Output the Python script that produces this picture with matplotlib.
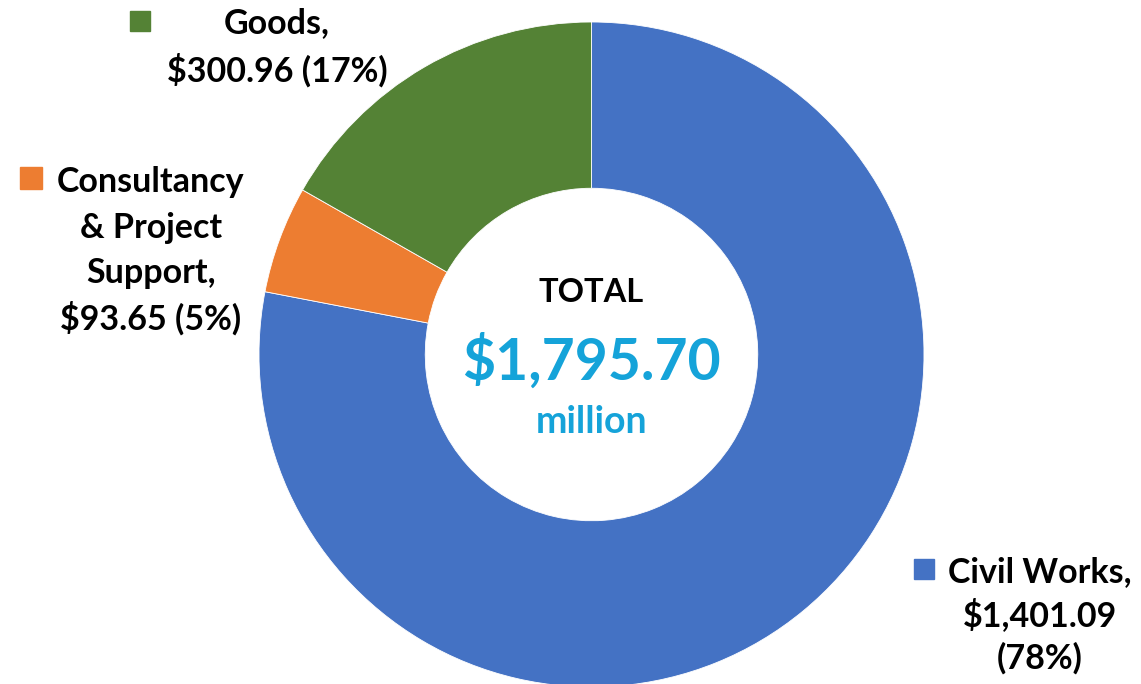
import matplotlib.pyplot as plt

labels = ["Civil Works", "Consultancy & Project Support", "Goods"]
values = [1401.09, 93.65, 300.96]
shares = ["78%", "5%", "17%"]
colors = ["#4472C4", "#ED7D31", "#548235"]
total = 1795.70

plt.rcParams["font.family"] = ["Lato", "DejaVu Sans"]

W, H = 1141, 684
fig = plt.figure(figsize=(W / 100, H / 100), dpi=100)
ax = fig.add_axes([0, 0, 1, 1])

cx, cy, r = 591.5, H - 354.5, 332.5
ax.pie(values, colors=colors, startangle=90, counterclock=False,
       center=(cx, cy), radius=r, frame=True,
       wedgeprops=dict(width=r * 0.5, edgecolor="white", linewidth=0.6))
ax.set_xlim(0, W)
ax.set_ylim(0, H)
ax.set_aspect("equal")
ax.axis("off")

fs = 24.5


def label_block(lines, x, y0, step, sq, color):
    for i, s in enumerate(lines):
        ax.text(x, H - (y0 + i * step), s, ha="center", va="center",
                fontsize=fs, fontweight="bold", color="black")
    sx, sy, size = sq
    ax.add_patch(plt.Rectangle((sx, H - sy - size), size, size, color=color))


label_block([f"{labels[2]},", f"${values[2]:,.2f} ({shares[2]})"],
            277, 23, 47, (130, 11, 20), colors[2])
label_block(["Consultancy", "& Project", "Support,", f"${values[1]:,.2f} ({shares[1]})"],
            151, 182, 45.5, (20, 167, 22), colors[1])
label_block([f"{labels[0]},", f"${values[0]:,.2f}", f"({shares[0]})"],
            1040, 572, 43, (914, 559, 20), colors[0])

ax.text(cx, H - 293, "TOTAL", ha="center", va="center",
        fontsize=23.5, fontweight="bold", color="black")
ax.text(cx, H - 362, f"${total:,.2f}", ha="center", va="center",
        fontsize=41, fontweight="bold", color="#15A3D9")
ax.text(cx, H - 422, "million", ha="center", va="center",
        fontsize=27, fontweight="bold", color="#15A3D9")

fig.savefig("out.png", dpi=100)
